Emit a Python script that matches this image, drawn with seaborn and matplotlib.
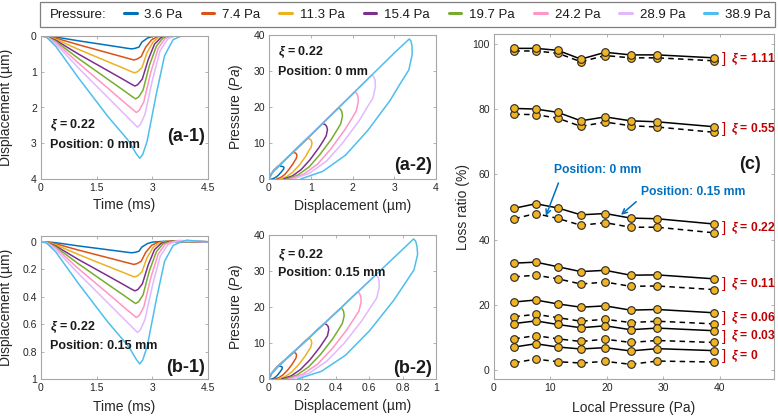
import matplotlib
matplotlib.use("Agg")
import pandas as pd
import matplotlib.pyplot as plt
import seaborn as sns
from matplotlib.lines import Line2D
from matplotlib.patches import Rectangle
from matplotlib.ticker import FuncFormatter

# ---------------------------------------------------------------------------
# data
# ---------------------------------------------------------------------------
pressures = [3.6, 7.4, 11.3, 15.4, 19.7, 24.2, 28.9, 38.9]
pressure_labels = [f"{p} Pa" for p in pressures]
colors = ["#0072BD", "#D95319", "#EDB120", "#7E2F8E",
          "#77AC30", "#FF96C4", "#E2B8FF", "#4DBEEE"]

# time samples (ms) of the displacement curves, one list per pressure
time_ms = [
    [0, 0.15, 0.4, 1.0, 1.8, 2.14, 2.34, 2.44, 2.52, 2.64, 2.72, 2.87, 3.01, 3.15, 3.3, 3.5, 4.5],
    [0, 0.15, 0.4, 1.0, 1.8, 2.2, 2.4, 2.5, 2.58, 2.7, 2.82, 2.98, 3.14, 3.3, 3.45, 3.65, 4.5],
    [0, 0.15, 0.4, 1.0, 1.8, 2.22, 2.42, 2.52, 2.6, 2.72, 2.85, 3.02, 3.18, 3.35, 3.5, 3.7, 4.5],
    [0, 0.15, 0.4, 1.0, 1.8, 2.23, 2.43, 2.53, 2.61, 2.73, 2.89, 3.06, 3.24, 3.42, 3.57, 3.77, 4.5],
    [0, 0.15, 0.4, 1.0, 1.8, 2.25, 2.45, 2.55, 2.63, 2.75, 2.92, 3.11, 3.29, 3.48, 3.63, 3.83, 4.5],
    [0, 0.15, 0.4, 1.0, 1.8, 2.27, 2.47, 2.57, 2.65, 2.77, 2.96, 3.16, 3.35, 3.55, 3.7, 3.9, 4.5],
    [0, 0.15, 0.4, 1.0, 1.8, 2.3, 2.5, 2.6, 2.68, 2.8, 3.01, 3.21, 3.42, 3.62, 3.77, 3.97, 4.5],
    [0, 0.15, 0.4, 1.0, 1.8, 2.36, 2.56, 2.66, 2.74, 2.86, 3.11, 3.33, 3.56, 3.78, 3.93, 4.13, 4.5],
]

# displacement (um) at position 0 mm  -> panel (a-1)
disp_0mm = [
    [0, 0.005, 0.03, 0.133, 0.259, 0.313, 0.346, 0.36, 0.349, 0.31, 0.169, 0.058, 0.011, 0, -0.003, -0.001, 0],
    [0, 0.007, 0.06, 0.242, 0.47, 0.584, 0.643, 0.67, 0.65, 0.576, 0.315, 0.107, 0.02, 0, -0.006, -0.003, 0],
    [0, 0.01, 0.09, 0.37, 0.718, 0.9, 0.99, 1.03, 1.0, 0.886, 0.484, 0.165, 0.031, 0, -0.009, -0.004, 0],
    [0, 0.014, 0.12, 0.5, 0.97, 1.223, 1.344, 1.40, 1.358, 1.204, 0.658, 0.224, 0.042, 0, -0.012, -0.006, 0],
    [0, 0.018, 0.15, 0.623, 1.21, 1.54, 1.69, 1.76, 1.707, 1.514, 0.827, 0.282, 0.053, 0, -0.015, -0.007, 0],
    [0, 0.021, 0.18, 0.751, 1.459, 1.88, 2.054, 2.14, 2.076, 1.84, 1.006, 0.342, 0.064, 0, -0.018, -0.009, 0],
    [0, 0.026, 0.22, 0.885, 1.718, 2.238, 2.448, 2.55, 2.474, 2.193, 1.199, 0.408, 0.077, 0, -0.022, -0.01, 0],
    [0, 0.034, 0.29, 1.159, 2.249, 2.931, 3.283, 3.42, 3.317, 2.941, 1.607, 0.547, 0.103, 0, -0.03, -0.014, 0],
]

# displacement (um) at position 0.15 mm -> panel (b-1)
disp_015mm = [
    [0, 0.001, 0.007, 0.03, 0.058, 0.07, 0.077, 0.08, 0.078, 0.069, 0.038, 0.013, 0.002, 0, -0.003, -0.001, 0],
    [0, 0.002, 0.015, 0.06, 0.116, 0.144, 0.158, 0.165, 0.16, 0.142, 0.078, 0.026, 0.005, 0, -0.005, -0.002, 0],
    [0, 0.002, 0.022, 0.092, 0.179, 0.224, 0.246, 0.256, 0.249, 0.22, 0.12, 0.041, 0.008, 0, -0.006, -0.003, 0],
    [0, 0.004, 0.031, 0.128, 0.248, 0.313, 0.344, 0.358, 0.348, 0.308, 0.168, 0.057, 0.011, 0, -0.007, -0.003, 0],
    [0, 0.005, 0.038, 0.159, 0.31, 0.394, 0.432, 0.45, 0.437, 0.387, 0.212, 0.072, 0.014, 0, -0.008, -0.004, 0],
    [0, 0.005, 0.046, 0.194, 0.376, 0.485, 0.53, 0.552, 0.536, 0.475, 0.26, 0.088, 0.017, 0, -0.009, -0.004, 0],
    [0, 0.007, 0.057, 0.229, 0.445, 0.58, 0.634, 0.661, 0.641, 0.568, 0.311, 0.106, 0.02, 0, -0.01, -0.005, 0],
    [0, 0.009, 0.075, 0.301, 0.585, 0.762, 0.854, 0.89, 0.862, 0.765, 0.418, 0.142, 0.027, 0, -0.012, -0.006, 0],
]

# hysteresis loops, panel (a-2): displacement (um) and pressure (Pa)
loop_x_0mm = [
    [0, 0.05, 0.12, 0.23, 0.295, 0.34, 0.36, 0.351, 0.33, 0.30, 0.24, 0.18, 0.12, 0.06],
    [0, 0.05, 0.12, 0.25, 0.5, 0.57, 0.62, 0.655, 0.67, 0.655, 0.62, 0.57, 0.47, 0.38, 0.28, 0.18],
    [0, 0.05, 0.12, 0.25, 0.5, 0.92, 0.975, 1.01, 1.03, 1.01, 0.95, 0.88, 0.73, 0.57, 0.42, 0.27],
    [0, 0.05, 0.12, 0.25, 0.5, 1.0, 1.28, 1.34, 1.38, 1.40, 1.37, 1.30, 1.19, 0.98, 0.77, 0.56, 0.35],
    [0, 0.05, 0.12, 0.25, 0.5, 1.0, 1.5, 1.66, 1.71, 1.745, 1.76, 1.72, 1.63, 1.49, 1.22, 0.96, 0.69, 0.42],
    [0, 0.05, 0.12, 0.25, 0.5, 1.0, 1.5, 2.0, 2.05, 2.095, 2.13, 2.14, 2.09, 1.98, 1.81, 1.48, 1.16, 0.83, 0.5],
    [0, 0.05, 0.12, 0.25, 0.5, 1.0, 1.5, 2.0, 2.46, 2.505, 2.54, 2.55, 2.49, 2.35, 2.16, 1.76, 1.37, 0.97, 0.58],
    [0, 0.05, 0.12, 0.25, 0.5, 1.0, 1.5, 2.0, 2.5, 3.0, 3.36, 3.40, 3.425, 3.43, 3.35, 3.16, 2.90, 2.36, 1.83, 1.29, 0.76],
]
loop_p_0mm = [
    [0, 1.3, 2.4, 3.6, 3.55, 3.42, 3.2, 2.81, 2.48, 2.02, 1.24, 0.61, 0.2, 0],
    [0, 1.3, 2.4, 3.8, 6.6, 7.4, 7.29, 7.03, 6.59, 5.77, 5.11, 4.14, 2.55, 1.26, 0.41, 0],
    [0, 1.3, 2.4, 3.8, 6.6, 11.3, 11.13, 10.74, 10.06, 8.81, 7.8, 6.33, 3.9, 1.92, 0.62, 0],
    [0, 1.3, 2.4, 3.8, 6.6, 12.2, 15.4, 15.17, 14.63, 13.71, 12.0, 10.6, 8.62, 5.31, 2.62, 0.85, 0],
    [0, 1.3, 2.4, 3.8, 6.6, 12.2, 17.9, 19.7, 19.4, 18.7, 17.5, 15.4, 13.6, 11.0, 6.8, 3.35, 1.08, 0],
    [0, 1.3, 2.4, 3.8, 6.6, 12.2, 17.9, 23.6, 24.2, 23.85, 23.0, 21.5, 18.9, 16.7, 13.6, 8.35, 4.1, 1.33, 0],
    [0, 1.3, 2.4, 3.8, 6.6, 12.2, 17.9, 23.6, 28.9, 28.5, 27.5, 25.7, 22.5, 19.9, 16.2, 9.97, 4.9, 1.6, 0],
    [0, 1.3, 2.4, 3.8, 6.6, 12.2, 17.9, 23.6, 29.3, 35.0, 38.9, 38.3, 37.0, 34.6, 30.3, 26.8, 21.8, 13.4, 6.6, 2.14, 0],
]

# hysteresis loops, panel (b-2)
loop_x_015mm = [
    [0, 0.015, 0.035, 0.055, 0.0675, 0.076, 0.08, 0.078, 0.074, 0.067, 0.054, 0.041, 0.028, 0.015],
    [0, 0.015, 0.035, 0.06, 0.12, 0.146, 0.156, 0.162, 0.165, 0.161, 0.152, 0.139, 0.113, 0.087, 0.061, 0.035],
    [0, 0.015, 0.035, 0.06, 0.12, 0.235, 0.2455, 0.253, 0.256, 0.25, 0.236, 0.216, 0.176, 0.135, 0.095, 0.055],
    [0, 0.015, 0.035, 0.06, 0.12, 0.25, 0.33, 0.344, 0.354, 0.358, 0.35, 0.33, 0.301, 0.245, 0.188, 0.132, 0.075],
    [0, 0.015, 0.035, 0.06, 0.12, 0.25, 0.4, 0.43, 0.44, 0.447, 0.45, 0.439, 0.415, 0.379, 0.308, 0.237, 0.166, 0.095],
    [0, 0.015, 0.035, 0.06, 0.12, 0.25, 0.4, 0.53, 0.541, 0.549, 0.552, 0.539, 0.508, 0.465, 0.377, 0.29, 0.202, 0.115],
    [0, 0.015, 0.035, 0.06, 0.12, 0.25, 0.4, 0.55, 0.64, 0.65, 0.658, 0.661, 0.645, 0.608, 0.556, 0.451, 0.345, 0.24, 0.135],
    [0, 0.015, 0.035, 0.06, 0.12, 0.25, 0.4, 0.55, 0.7, 0.85, 0.866, 0.878, 0.886, 0.89, 0.868, 0.818, 0.746, 0.602, 0.458, 0.314, 0.17],
]
loop_p_015mm = [
    [0, 1.5, 2.6, 3.6, 3.55, 3.42, 3.2, 2.81, 2.48, 2.02, 1.24, 0.61, 0.2, 0],
    [0, 1.5, 2.6, 3.8, 6.3, 7.4, 7.29, 7.03, 6.59, 5.77, 5.11, 4.14, 2.55, 1.26, 0.41, 0],
    [0, 1.5, 2.6, 3.8, 6.3, 11.3, 11.13, 10.74, 10.06, 8.81, 7.8, 6.33, 3.9, 1.92, 0.62, 0],
    [0, 1.5, 2.6, 3.8, 6.3, 11.9, 15.4, 15.17, 14.63, 13.71, 12.0, 10.6, 8.62, 5.31, 2.62, 0.85, 0],
    [0, 1.5, 2.6, 3.8, 6.3, 11.9, 18.4, 19.7, 19.4, 18.7, 17.5, 15.4, 13.6, 11.0, 6.8, 3.35, 1.08, 0],
    [0, 1.5, 2.6, 3.8, 6.3, 11.9, 18.4, 24.2, 23.85, 23.0, 21.5, 18.9, 16.7, 13.6, 8.35, 4.1, 1.33, 0],
    [0, 1.5, 2.6, 3.8, 6.3, 11.9, 18.4, 25.0, 28.9, 28.5, 27.5, 25.7, 22.5, 19.9, 16.2, 9.97, 4.9, 1.6, 0],
    [0, 1.5, 2.6, 3.8, 6.3, 11.9, 18.4, 25.0, 31.6, 38.2, 38.9, 38.3, 37.0, 34.6, 30.3, 26.8, 21.8, 13.4, 6.6, 2.14, 0],
]

# panel (c): loss ratio (%) vs local pressure
xi_values = ["1.11", "0.55", "0.22", "0.11", "0.06", "0.03", "0"]
loss_015mm = [  # solid lines
    [98.6, 98.6, 98.0, 95.3, 97.4, 96.6, 96.6, 95.7],
    [80.2, 80.0, 79.0, 76.4, 77.6, 76.4, 76.1, 74.6],
    [49.6, 51.0, 49.7, 47.6, 48.0, 46.6, 46.4, 44.8],
    [32.8, 33.1, 31.7, 30.2, 30.6, 29.1, 29.2, 28.0],
    [20.9, 21.5, 20.3, 19.3, 19.7, 18.4, 18.6, 17.6],
    [14.3, 15.1, 14.0, 13.0, 13.6, 12.4, 12.9, 12.1],
    [7.1, 8.1, 7.1, 6.5, 6.9, 5.9, 6.6, 6.0],
]
loss_0mm = [  # dashed lines
    [97.8, 97.8, 97.1, 94.5, 96.4, 95.7, 95.7, 94.8],
    [78.4, 78.3, 77.2, 74.7, 76.0, 74.9, 74.5, 72.9],
    [46.4, 48.0, 46.5, 44.4, 45.2, 43.8, 43.8, 42.1],
    [28.6, 29.1, 28.0, 26.4, 27.0, 25.7, 25.8, 24.7],
    [16.4, 17.1, 16.1, 15.0, 15.6, 14.6, 15.0, 14.2],
    [9.6, 10.6, 9.6, 8.8, 9.5, 8.5, 9.1, 8.5],
    [2.3, 3.4, 2.6, 2.2, 2.7, 1.8, 2.8, 2.5],
]

# ---------------------------------------------------------------------------
# style
# ---------------------------------------------------------------------------
sns.set_theme(style="ticks")
plt.rcParams.update({
    "font.family": ["Liberation Sans", "DejaVu Sans"],
    "mathtext.fontset": "custom",
    "mathtext.it": "Liberation Sans:italic:bold",
    "mathtext.rm": "Liberation Sans:bold",
    "mathtext.sf": "Liberation Sans:italic",
    "xtick.direction": "in", "ytick.direction": "in",
    "xtick.top": True, "ytick.right": True,
    "axes.edgecolor": "#a6a6a6", "axes.linewidth": 0.8,
    "xtick.color": "#a6a6a6", "ytick.color": "#a6a6a6",
    "xtick.labelcolor": "#262626", "ytick.labelcolor": "#262626",
    "xtick.major.size": 2.5, "ytick.major.size": 2.5,
    "xtick.major.width": 0.6, "ytick.major.width": 0.6,
    "xtick.major.pad": 3, "ytick.major.pad": 3,
    "xtick.labelsize": 7.5, "ytick.labelsize": 7.5,
    "axes.labelsize": 10, "axes.labelcolor": "#262626",
})

W, H = 778, 418
fig = plt.figure(figsize=(W / 100, H / 100), dpi=100)


def add_axes(left, top, right, bottom):
    return fig.add_axes([left / W, 1 - bottom / H, (right - left) / W, (bottom - top) / H])


ax_a1 = add_axes(41, 36, 208, 179)
ax_a2 = add_axes(269, 35, 436, 179)
ax_b1 = add_axes(41, 236, 208, 379)
ax_b2 = add_axes(269, 235, 436, 379)
ax_c = add_axes(494, 34, 774, 379)

fmt = FuncFormatter(lambda v, p: f"{v:g}")


def draw_curves(ax, xs, ys):
    rows = []
    for lab, xx, yy in zip(pressure_labels, xs, ys):
        rows += [(lab, a, b) for a, b in zip(xx, yy)]
    df = pd.DataFrame(rows, columns=["pressure", "x", "y"])
    sns.lineplot(data=df, x="x", y="y", hue="pressure", hue_order=pressure_labels,
                 palette=colors, sort=False, estimator=None, legend=False,
                 lw=1.1, ax=ax)


def inset_text(ax, y1, y2, pos):
    ax.text(0.054, y1, r"$\xi$ = 0.22", transform=ax.transAxes, fontsize=9,
            fontweight="bold", va="center", color="#1a1a1a")
    ax.text(0.054, y2, f"Position: {pos}", transform=ax.transAxes, fontsize=9,
            fontweight="bold", va="center", color="#1a1a1a")


# (a-1), (b-1): displacement vs time
for ax, disp, ylim, yt, tag, ty, xl, p1, p2, pos in [
    (ax_a1, disp_0mm, (4, 0), [0, 1, 2, 3, 4], "(a-1)", 0.294, -0.13, 0.371, 0.238, "0 mm"),
    (ax_b1, disp_015mm, (1, -0.042), [0, 0.2, 0.4, 0.6, 0.8, 1], "(b-1)", 0.077, -0.15, 0.36, 0.231, "0.15 mm"),
]:
    draw_curves(ax, time_ms, disp)
    ax.set_xlim(0, 4.5)
    ax.set_ylim(*ylim)
    ax.set_xticks([0, 1.5, 3, 4.5])
    ax.set_yticks(yt)
    ax.xaxis.set_major_formatter(fmt)
    ax.yaxis.set_major_formatter(fmt)
    ax.set_xlabel("Time (ms)")
    ax.set_ylabel("Displacement (µm)")
    ax.xaxis.set_label_coords(0.5, xl)
    ax.yaxis.set_label_coords(-0.168, 0.5)
    ax.text(0.985, ty, tag, transform=ax.transAxes, fontsize=13, fontweight="bold",
            ha="right", va="center", color="#1a1a1a")
    inset_text(ax, p1, p2, pos)

# (a-2), (b-2): pressure vs displacement loops
for ax, lx, lp, xlim, xt, tag, p1, p2, pos, yl in [
    (ax_a2, loop_x_0mm, loop_p_0mm, (0, 4), [0, 1, 2, 3, 4], "(a-2)", 0.878, 0.743, "0 mm", 0.097),
    (ax_b2, loop_x_015mm, loop_p_015mm, (0, 1), [0, 0.2, 0.4, 0.6, 0.8, 1], "(b-2)", 0.861, 0.736, "0.15 mm", 0.073),
]:
    draw_curves(ax, lx, lp)
    ax.set_xlim(*xlim)
    ax.set_ylim(0, 40)
    ax.set_xticks(xt)
    ax.set_yticks([0, 10, 20, 30, 40])
    ax.xaxis.set_major_formatter(fmt)
    ax.set_xlabel("Displacement (µm)")
    ax.set_ylabel(r"Pressure ($\mathsf{Pa}$)")
    ax.xaxis.set_label_coords(0.5, -0.142)
    ax.yaxis.set_label_coords(-0.144, 0.5)
    ax.text(0.976, yl, tag, transform=ax.transAxes, fontsize=13, fontweight="bold",
            ha="right", va="center", color="#1a1a1a")
    inset_text(ax, p1, p2, pos)

# (c): loss ratio
marker_kw = dict(color="black", lw=1.1, marker="o", markersize=5.5,
                 markerfacecolor="#F0B323", markeredgecolor="#262626", markeredgewidth=0.8)
for vals in loss_0mm:
    sns.lineplot(x=pressures, y=vals, ax=ax_c, linestyle=(0, (3.6, 2.8)), **marker_kw)
for vals in loss_015mm:
    sns.lineplot(x=pressures, y=vals, ax=ax_c, linestyle="-", **marker_kw)

red = "#C00000"
for xi, s, d in zip(xi_values, loss_015mm, loss_0mm):
    ymid = (s[-1] + d[-1]) / 2
    ax_c.text(40.3, ymid, "]", color=red, fontsize=11, va="center", ha="left")
    ax_c.text(41.9, ymid, rf"$\xi$ = {xi}", color=red, fontsize=8.7,
              fontweight="bold", va="center", ha="left")

blue = "#0070C0"
ax_c.annotate("Position: 0 mm", xy=(9.2, 47.3), xytext=(18.4, 61.4),
              ha="center", va="center", color=blue, fontsize=8.7, fontweight="bold",
              arrowprops=dict(arrowstyle="->", color=blue, lw=1.1, relpos=(0.08, 0),
                              shrinkA=3, shrinkB=0))
ax_c.annotate("Position: 0.15 mm", xy=(22.5, 47.6), xytext=(35.2, 54.6),
              ha="center", va="center", color=blue, fontsize=8.7, fontweight="bold",
              arrowprops=dict(arrowstyle="->", color=blue, lw=1.1, relpos=(0, 0),
                              shrinkA=1, shrinkB=0))
ax_c.text(45.3, 62.9, "(c)", fontsize=13, fontweight="bold", ha="center",
          va="center", color="#1a1a1a")

ax_c.set_xlim(0, 49.6)
ax_c.set_ylim(-2.7, 103)
ax_c.set_xticks([0, 10, 20, 30, 40])
ax_c.set_yticks([0, 20, 40, 60, 80, 100])
ax_c.set_xlabel("Local Pressure (Pa)")
ax_c.set_ylabel("Loss ratio (%)")
ax_c.xaxis.set_label_coords(0.5, -0.064)
ax_c.yaxis.set_label_coords(-0.086, 0.5)

# legend strip on top
fig.patches.append(Rectangle((40 / W, 1 - 27 / H), 735 / W, 25 / H, transform=fig.transFigure,
                             fill=False, ec="#7f7f7f", lw=0.9))
fig.text(50 / W, 1 - 14.5 / H, "Pressure:", fontsize=9.5, va="center", color="#1a1a1a")
handles = [Line2D([0], [0], color=c, lw=2.2) for c in colors]
fig.legend(handles, pressure_labels, ncol=8, loc="center left",
           bbox_to_anchor=(124 / W, 1 - 14.5 / H), frameon=False, fontsize=9.5,
           handlelength=0.95, handletextpad=0.6, columnspacing=1.45, borderpad=0,
           borderaxespad=0, labelcolor="#1a1a1a")

fig.savefig("out.png", dpi=100)
